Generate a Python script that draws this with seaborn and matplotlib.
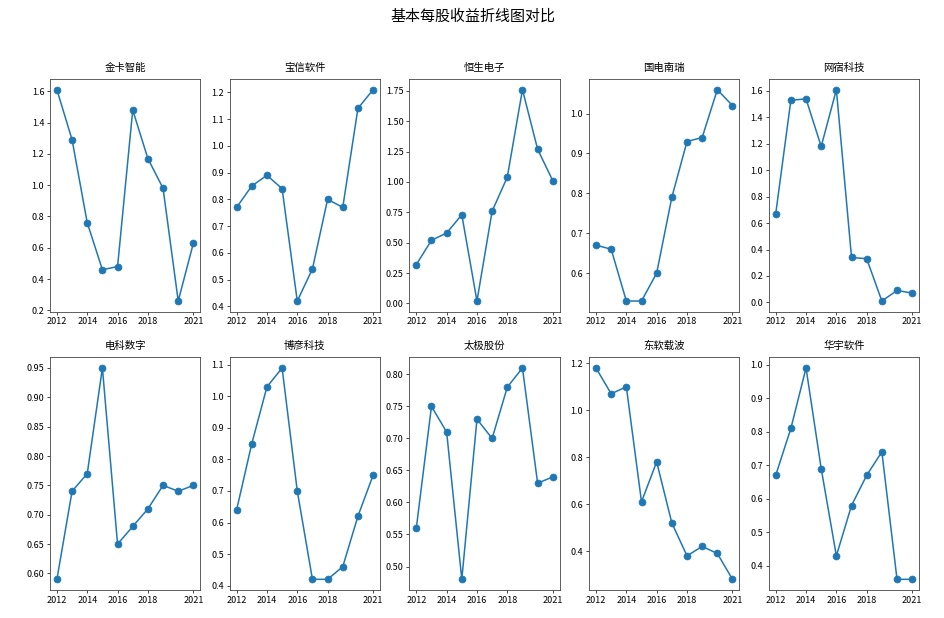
import matplotlib
matplotlib.use("Agg")
import matplotlib.pyplot as plt
import seaborn as sns
import pandas as pd

plt.rcParams['font.family'] = ['Noto Sans CJK SC', 'DejaVu Sans']
plt.rcParams['axes.unicode_minus'] = False

years = [2012, 2013, 2014, 2015, 2016, 2017, 2018, 2019, 2020, 2021]
year_ticks = [2012, 2014, 2016, 2018, 2021]

companies = ['金卡智能', '宝信软件', '恒生电子', '国电南瑞', '网宿科技',
             '电科数字', '博彦科技', '太极股份', '东软载波', '华宇软件']

jinka = [1.61, 1.29, 0.76, 0.46, 0.48, 1.48, 1.17, 0.98, 0.26, 0.63]
baoxin = [0.77, 0.85, 0.89, 0.84, 0.42, 0.54, 0.80, 0.77, 1.14, 1.21]
hengsheng = [0.32, 0.52, 0.58, 0.73, 0.02, 0.76, 1.04, 1.76, 1.27, 1.01]
guodian = [0.67, 0.66, 0.53, 0.53, 0.60, 0.79, 0.93, 0.94, 1.06, 1.02]
wangsu = [0.67, 1.53, 1.54, 1.18, 1.61, 0.34, 0.33, 0.01, 0.09, 0.07]
dianke = [0.59, 0.74, 0.77, 0.95, 0.65, 0.68, 0.71, 0.75, 0.74, 0.75]
boyan = [0.64, 0.85, 1.03, 1.09, 0.70, 0.42, 0.42, 0.46, 0.62, 0.75]
taiji = [0.56, 0.75, 0.71, 0.48, 0.73, 0.70, 0.78, 0.81, 0.63, 0.64]
dongruan = [1.18, 1.07, 1.10, 0.61, 0.78, 0.52, 0.38, 0.42, 0.39, 0.28]
huayu = [0.67, 0.81, 0.99, 0.69, 0.43, 0.58, 0.67, 0.74, 0.36, 0.36]

eps = [jinka, baoxin, hengsheng, guodian, wangsu,
       dianke, boyan, taiji, dongruan, huayu]

fig, axes = plt.subplots(2, 5, figsize=(9.45, 6.18), dpi=100)
fig.subplots_adjust(left=0.053, right=0.9725, top=0.872, bottom=0.0455,
                    wspace=0.197, hspace=0.197)

for ax, name, vals in zip(axes.flat, companies, eps):
    df = pd.DataFrame({'year': years, 'eps': vals})
    sns.lineplot(data=df, x='year', y='eps', ax=ax, marker='o',
                 color='#1f77b4', linewidth=1.1, markersize=5,
                 markeredgecolor='#1f77b4', markeredgewidth=0.5)
    ax.set_title(name, fontsize=7.5, pad=6)
    ax.set_xlabel('')
    ax.set_ylabel('')
    ax.set_xticks(year_ticks)
    ax.tick_params(labelsize=6.5, length=2.2, width=0.5, pad=2)
    for s in ax.spines.values():
        s.set_linewidth(0.6)
        s.set_color('#444444')

fig.suptitle('基本每股收益折线图对比', fontsize=10.8, y=0.985)

plt.savefig('out.png', dpi=100)
